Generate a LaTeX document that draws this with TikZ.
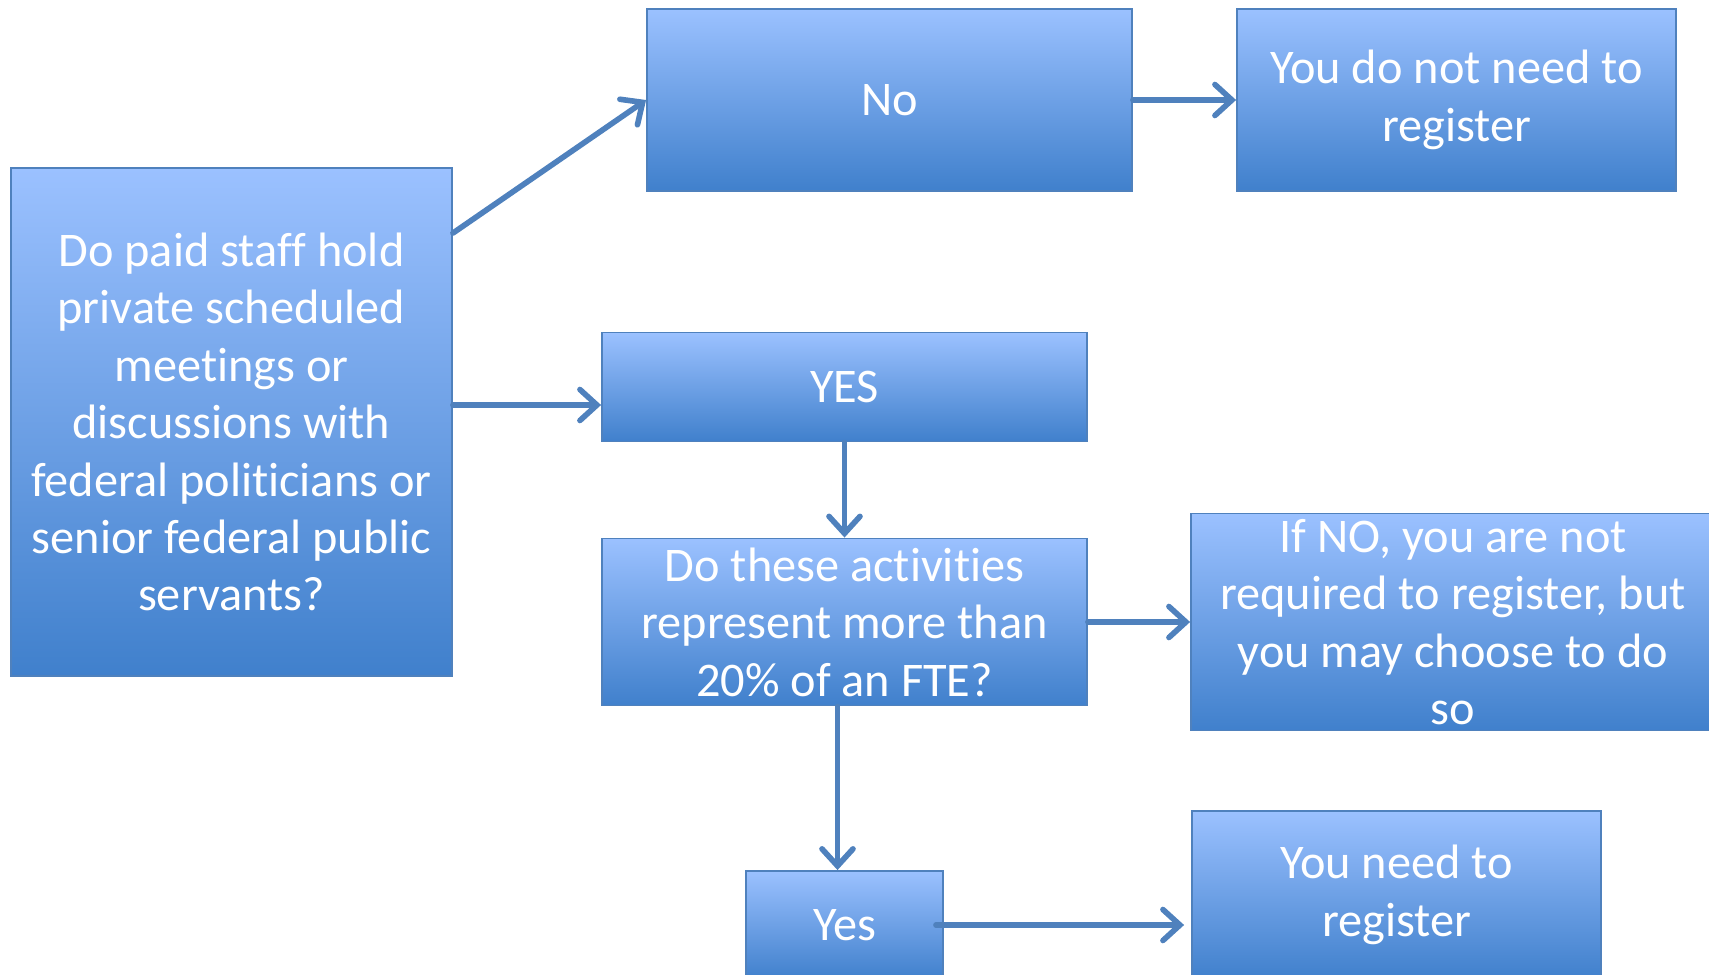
\documentclass[tikz,border=0pt]{standalone}
\usepackage{fontspec}
\setmainfont[Ligatures=NoCommon]{Carlito}
\usetikzlibrary{arrows.meta}

\definecolor{boxtop}{RGB}{155,193,255}
\definecolor{boxbottom}{RGB}{64,128,204}
\definecolor{boxline}{RGB}{79,129,189}

\begin{document}
\begin{tikzpicture}[x=0.02cm, y=-0.02cm]
    \tikzset{flowbox/.style={
        rectangle, draw=boxline, line width=1.1pt, top color=boxtop, bottom color=boxbottom,
        text=white, align=center, inner sep=0pt,
        font=\fontsize{27.5pt}{32.7pt}\selectfont
      },
      flowarrow/.style={
        draw=boxline, line width=3.2pt, line cap=round,
        -{Straight Barb[length=0.34cm, width=0.62cm, line cap=round]}
      }
    }

    \useasboundingbox (0,0) rectangle (1709,974);

    \node[flowbox, minimum width=8.82cm, minimum height=10.16cm] (q) at (231.5,422)
      {Do paid staff hold\\private scheduled\\meetings or\\discussions with\\federal politicians or\\senior federal public\\servants?};

    \node[flowbox, minimum width=9.7cm, minimum height=3.64cm] (no) at (889.5,100) {\raisebox{-3pt}{No}};
    \node[flowbox, minimum width=8.78cm, minimum height=3.64cm] (dont) at (1456.5,100) {You do not need to\\register};

    \node[flowbox, minimum width=9.7cm, minimum height=2.18cm] (yes) at (844.5,387) {YES};
    \node[flowbox, minimum width=9.7cm, minimum height=3.34cm] (act) at (844.5,622)
      {Do these activities\\represent more than\\20\% of an FTE?};
    \node[flowbox, minimum width=10.48cm, minimum height=4.34cm] (ifno) at (1453,622)
      {If NO, you are not\\required to register, but\\you may choose to do\\so};

    \node[flowbox, minimum width=3.94cm, minimum height=2.16cm] (yesb) at (844.5,925) {Yes};
    \node[flowbox, minimum width=8.18cm, minimum height=3.36cm] (need) at (1396.5,895) {You need to\\register};

    \coordinate (qup) at ([yshift=-1.32cm]q.north east);
    \coordinate (qmid) at ([yshift=0.34cm]q.east);
    \coordinate (actdown) at ([xshift=-0.14cm]act.south);

    \draw[flowarrow] (qup) -- (no.west);
    \draw[flowarrow] (qmid) -- (qmid -| yes.west);
    \draw[flowarrow] (no.east) -- (dont.west);
    \draw[flowarrow] (yes.south) -- (act.north);
    \draw[flowarrow] (act.east) -- (act.east -| ifno.west);
    \draw[flowarrow] (actdown) -- (actdown |- yesb.north);
    \draw[flowarrow, shorten <=-0.16cm, shorten >=0.14cm] (yesb.east) -- (yesb.east -| need.west);

\end{tikzpicture}
\end{document}
